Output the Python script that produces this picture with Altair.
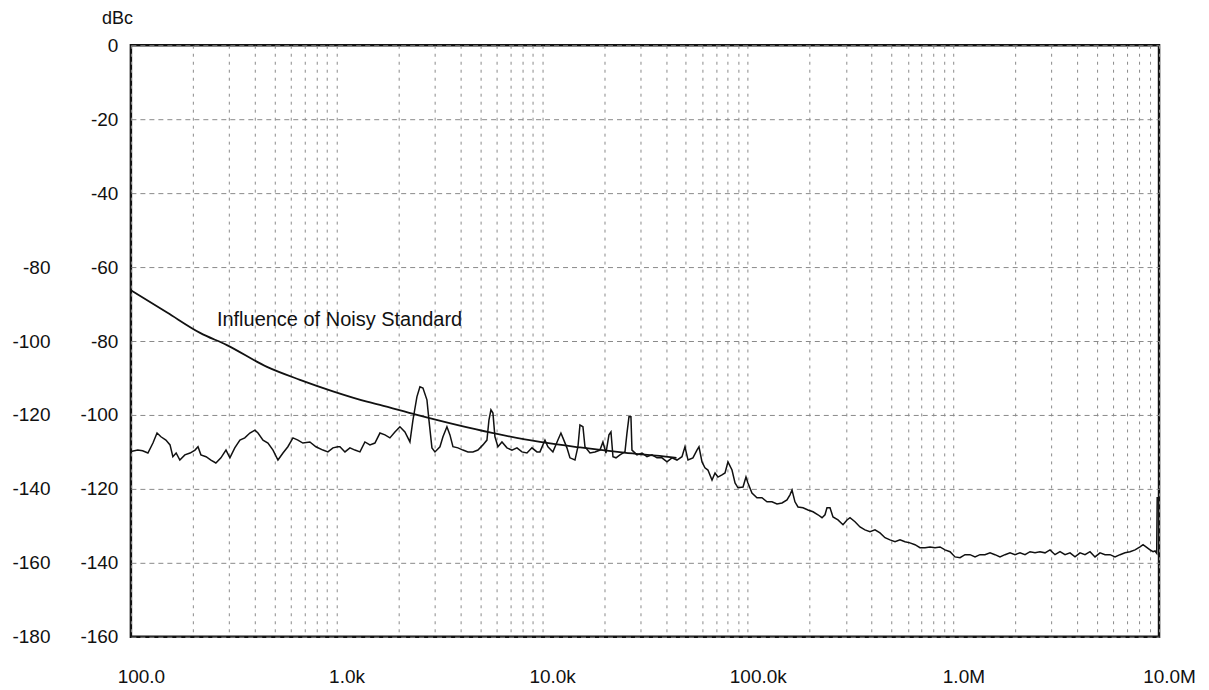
import altair as alt
import pandas as pd

# ---- data ----
trace_freq = [
    100, 108, 114, 121, 128, 134, 140, 148, 155, 160, 166, 173, 183, 194, 205, 212, 219, 232, 245, 259,
    274, 290, 303, 320, 339, 358, 379, 401, 415, 439, 464, 491, 519, 549, 580, 614, 649, 686, 742, 794,
    859, 908, 961, 1016, 1039, 1099, 1162, 1229, 1300, 1374, 1454, 1537, 1626, 1720, 1818, 1923, 2034,
    2151, 2275, 2353, 2460, 2545, 2632, 2752, 2815, 2911, 3011, 3184, 3293, 3443, 3561, 3683, 3895, 4119,
    4356, 4607, 4872, 5152, 5389, 5511, 5636, 5763, 5894, 6095, 6376, 6743, 7131, 7541, 7976, 8435, 8919,
    9434, 9757, 10320, 10670, 11280, 11930, 12340, 12620, 13200, 13650, 14440, 14930, 15270, 15790, 16150,
    17080, 18060, 19100, 19750, 20430, 21130, 21610, 22100, 22860, 23900, 25280, 25850, 26440, 27030,
    27340, 28910, 30580, 32340, 34200, 36170, 38250, 40460, 42790, 45250, 47860, 49500, 51200, 54100,
    56600, 57900, 59900, 61900, 64000, 67000, 69300, 71600, 74900, 77500, 80100, 83800, 86700, 89600,
    94800, 98000, 100200, 104800, 110800, 117200, 124000, 131100, 138700, 146700, 155100, 160400, 164100,
    169600, 175500, 185600, 196300, 207600, 219500, 229600, 237400, 242800, 251100, 259700, 274600,
    290400, 303700, 314100, 332200, 351300, 371500, 392900, 415600, 439500, 464800, 491600, 520000,
    549900, 581500, 615000, 650400, 687900, 727600, 769500, 813800, 860700, 910000, 963000,
    1018000, 1077000, 1139000, 1204000, 1274000, 1347000, 1424000, 1507000, 1593000, 1685000, 1782000,
    1885000, 1993000, 2108000, 2230000, 2358000, 2494000, 2637000, 2789000, 2950000, 3120000, 3300000,
    3490000, 3691000, 3903000, 4128000, 4366000, 4617000, 4883000, 5164000, 5462000, 5776000, 6109000,
    6461000, 6833000, 7227000, 7643000, 8083000, 8360000, 8743000, 9042000, 9350000, 9560000, 9740000,
    9800000,
]
trace_db = [
    -109.9, -109.5, -109.7, -110.3, -107.6, -104.9, -105.9, -106.8, -108.1, -111.3, -110.3, -112.2, -110.8,
    -110.3, -109.5, -108.6, -110.8, -111.3, -112.2, -113.0, -111.6, -109.5, -111.6, -108.9, -106.8, -106.2,
    -104.9, -104.1, -104.9, -106.8, -107.6, -109.5, -112.2, -110.3, -108.6, -106.2, -106.8, -107.6, -107.3,
    -108.6, -109.5, -110.0, -108.9, -108.6, -108.6, -110.0, -108.9, -109.5, -110.0, -107.3, -108.1, -107.6,
    -104.9, -105.4, -106.2, -104.6, -103.2, -104.6, -107.3, -101.4, -95.1, -92.4, -92.7, -95.9, -101.4,
    -108.9, -110.0, -108.6, -105.9, -103.2, -105.4, -108.6, -108.9, -109.5, -110.0, -110.0, -109.5, -108.1,
    -106.8, -101.4, -98.6, -99.5, -105.9, -108.6, -107.3, -108.9, -109.5, -108.9, -110.0, -110.3, -108.9,
    -110.0, -110.0, -106.8, -108.6, -110.0, -106.8, -104.9, -106.2, -108.9, -111.6, -112.2, -108.6, -102.7,
    -103.2, -108.6, -110.3, -110.0, -109.5, -107.3, -110.3, -105.4, -104.6, -111.3, -111.6, -110.8, -110.0,
    -104.9, -100.5, -100.5, -109.5, -110.8, -110.3, -111.3, -110.8, -111.6, -111.6, -112.7, -111.6, -112.2,
    -111.3, -108.6, -112.2, -111.6, -109.5, -108.6, -112.7, -114.3, -114.9, -117.6, -115.7, -116.8, -116.2,
    -115.7, -112.7, -114.9, -118.4, -119.7, -119.5, -116.8, -118.4, -121.1, -122.4, -122.4, -123.5, -123.5,
    -124.1, -123.8, -123.0, -121.6, -120.3, -123.5, -124.9, -125.1, -125.7, -126.2, -127.0, -127.8, -127.0,
    -125.1, -125.1, -127.6, -128.4, -129.7, -128.4, -127.8, -128.9, -130.3, -131.1, -131.6, -131.1, -131.9,
    -133.2, -133.8, -134.3, -133.8, -134.3, -134.6, -135.1, -135.9, -135.9, -135.7, -135.9, -135.7, -136.5,
    -137.0, -138.4, -138.6, -137.8, -137.8, -138.4, -137.8, -137.8, -137.3, -137.8, -138.4, -137.8, -137.3,
    -137.8, -137.3, -137.8, -137.0, -137.3, -137.0, -137.3, -136.5, -137.8, -137.0, -137.8, -137.3, -138.4,
    -137.3, -137.8, -137.0, -138.4, -137.3, -137.8, -137.8, -138.4, -137.8, -137.3, -137.0, -136.5, -135.7,
    -135.1, -135.9, -136.5, -137.0, -136.8, -137.4, -122.2,
]

curve_freq = [100, 150, 217, 293, 459, 664, 961, 1406, 1626, 2460, 5636, 9760, 15300, 25000, 42000, 45000]
curve_db = [-66.3, -72.3, -77.8, -81.1, -87.0, -90.5, -93.6, -96.4, -97.3, -100.0, -104.8, -107.3,
            -108.8, -110.2, -111.4, -111.6]

note_text = ["Influence of Noisy Standard"]
note_freq = [262]
note_db = [-74.3]

x_grid = [100, 200, 300, 400, 500, 600, 700, 800, 900,
          1000, 2000, 3000, 4000, 5000, 6000, 7000, 8000, 9000,
          10000, 20000, 30000, 40000, 50000, 60000, 70000, 80000, 90000,
          100000, 200000, 300000, 400000, 500000, 600000, 700000, 800000, 900000,
          1000000, 2000000, 3000000, 4000000, 5000000, 6000000, 7000000, 8000000, 9000000,
          10000000]
x_label_vals = [100, 1000, 10000, 100000, 1000000, 10000000]
x_label_text = ["100.0", "1.0k", "10.0k", "100.0k", "1.0M", "10.0M"]

y_inner_ticks = [0, -20, -40, -60, -80, -100, -120, -140, -160]
y_outer_ticks = [-60, -80, -100, -120, -140, -160]
y_outer_shift = -20

FONT = "Liberation Sans"
FS = 19

label_expr = ""
for v, t in zip(x_label_vals, x_label_text):
    label_expr += f"datum.value == {v} ? '{t}' : "
label_expr += "''"

trace_df = pd.DataFrame({"f": trace_freq, "db": trace_db})
curve_df = pd.DataFrame({"f": curve_freq, "db": curve_db})
note_df = pd.DataFrame({"f": note_freq, "db": note_db, "t": note_text})

x_scale = alt.Scale(type="log", domain=[100, 10000000], nice=False)
y_scale = alt.Scale(domain=[-160, 0], nice=False, zero=False)

x_axis = alt.Axis(values=x_grid, labelExpr=label_expr, grid=True, gridDash=[3, 5],
                  gridColor="#8a8a8a", gridWidth=1, ticks=False, domain=False,
                  labelOverlap=False, labelFlush=False, labelPadding=31, labelOffset=10,
                  labelFont=FONT, labelFontSize=FS, labelColor="#111", title=None)

y_inner = alt.Axis(values=y_inner_ticks, labelExpr="'' + datum.value", grid=True,
                   gridDash=[5, 4], gridColor="#8a8a8a", gridWidth=1, ticks=False,
                   domain=False, labelPadding=13, labelFont=FONT, labelFontSize=FS,
                   labelColor="#111", labelFlush=False, labelOverlap=False,
                   title="dBc", titleAngle=0, titleX=-14, titleY=-27, titleAlign="center",
                   titleBaseline="middle", titleFont=FONT, titleFontSize=FS - 1,
                   titleFontWeight="normal", titleColor="#111")

y_outer = alt.Axis(orient="left", offset=68, values=y_outer_ticks,
                   labelExpr=f"'' + (datum.value + ({y_outer_shift}))", grid=False,
                   ticks=False, domain=False, labelPadding=13, labelFont=FONT,
                   labelFontSize=FS, labelColor="#111", labelFlush=False,
                   labelOverlap=False, title=None)

trace = alt.Chart(trace_df).mark_line(color="#111", strokeWidth=1.5).encode(
    x=alt.X("f:Q", scale=x_scale, axis=x_axis),
    y=alt.Y("db:Q", scale=y_scale, axis=y_inner),
)

curve = alt.Chart(curve_df).mark_line(color="#111", strokeWidth=1.8, interpolate="monotone").encode(
    x=alt.X("f:Q", scale=x_scale, axis=x_axis),
    y=alt.Y("db:Q", scale=y_scale, axis=y_outer),
)

note = alt.Chart(note_df).mark_text(align="left", baseline="middle", font=FONT,
                                     fontSize=20, color="#111").encode(
    x=alt.X("f:Q", scale=x_scale, axis=x_axis),
    y=alt.Y("db:Q", scale=y_scale, axis=None),
    text="t:N",
)

chart = alt.layer(trace, curve, note).resolve_scale(y="independent").properties(
    width=1029, height=592,
    background="white",
    autosize=alt.AutoSizeParams(type="none"),
    padding={"left": 123, "top": 37, "right": 42, "bottom": 50},
).configure_view(stroke="#111", strokeWidth=2.5)

chart.save("out.html", embed_options={"renderer": "svg", "actions": False})
